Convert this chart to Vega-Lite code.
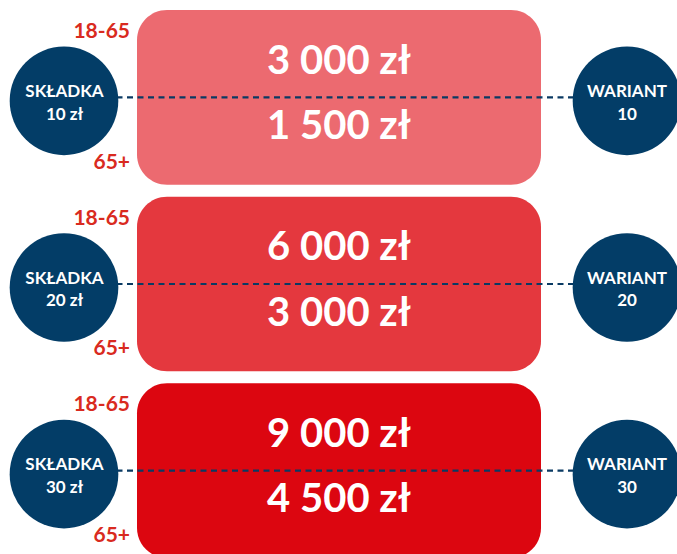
{
  "$schema": "https://vega.github.io/schema/vega-lite/v6.json",
  "width": 677,
  "height": 554,
  "autosize": {"type": "fit", "contains": "padding"},
  "padding": 0,
  "background": "white",
  "config": {
    "view": {"stroke": null},
    "locale": {"number": {"decimal": ",", "thousands": " ", "grouping": [3], "currency": ["", " zł"]}},
    "text": {"font": "Lato", "fontWeight": "bold", "baseline": "middle", "align": "center"}
  },
  "data": {
    "values": [
      {"wariant": 10, "skladka": 10, "kwota_18_65": 3000, "kwota_65plus": 1500},
      {"wariant": 20, "skladka": 20, "kwota_18_65": 6000, "kwota_65plus": 3000},
      {"wariant": 30, "skladka": 30, "kwota_18_65": 9000, "kwota_65plus": 4500}
    ]
  },
  "encoding": {
    "y": {"field": "wariant", "type": "ordinal", "axis": null,
          "scale": {"type": "band", "range": [10, 558], "paddingInner": 0.064, "paddingOuter": 0}}
  },
  "layer": [
    {
      "mark": {"type": "rect", "cornerRadius": 30},
      "encoding": {
        "x": {"datum": 137, "type": "quantitative", "axis": null, "scale": {"domain": [0, 677], "range": [0, 677], "nice": false, "zero": false}},
        "x2": {"datum": 541},
        "color": {"field": "wariant", "type": "nominal", "legend": null,
                  "scale": {"range": ["#EC6A70", "#E4383E", "#DC0610"]}}
      }
    },
    {
      "mark": {"type": "rule", "color": "#0A3A63", "strokeWidth": 2.2, "strokeDash": [6, 4.5]},
      "encoding": {
        "x": {"datum": 64, "type": "quantitative"},
        "x2": {"datum": 627},
        "y": {"field": "wariant", "type": "ordinal", "bandPosition": 0.5}
      }
    },
    {
      "mark": {"type": "point", "shape": "circle", "filled": true, "opacity": 1, "color": "#033D67", "size": 11800},
      "encoding": {
        "x": {"datum": 64, "type": "quantitative"},
        "y": {"field": "wariant", "type": "ordinal", "bandPosition": 0.52}
      }
    },
    {
      "mark": {"type": "point", "shape": "circle", "filled": true, "opacity": 1, "color": "#033D67", "size": 11800},
      "encoding": {
        "x": {"datum": 627, "type": "quantitative"},
        "y": {"field": "wariant", "type": "ordinal", "bandPosition": 0.52}
      }
    },
    {
      "mark": {"type": "text", "text": "SKŁADKA", "color": "white", "fontSize": 17, "letterSpacing": -0.6},
      "encoding": {
        "x": {"datum": 64.5, "type": "quantitative"},
        "y": {"field": "wariant", "type": "ordinal", "bandPosition": 0.47}
      }
    },
    {
      "mark": {"type": "text", "color": "white", "fontSize": 17, "letterSpacing": -0.4},
      "encoding": {
        "x": {"datum": 64.5, "type": "quantitative"},
        "y": {"field": "wariant", "type": "ordinal", "bandPosition": 0.6},
        "text": {"field": "skladka", "type": "quantitative", "format": "$,d"}
      }
    },
    {
      "mark": {"type": "text", "text": "WARIANT", "color": "white", "fontSize": 17, "letterSpacing": -0.6},
      "encoding": {
        "x": {"datum": 627, "type": "quantitative"},
        "y": {"field": "wariant", "type": "ordinal", "bandPosition": 0.47}
      }
    },
    {
      "mark": {"type": "text", "color": "white", "fontSize": 17},
      "encoding": {
        "x": {"datum": 627, "type": "quantitative"},
        "y": {"field": "wariant", "type": "ordinal", "bandPosition": 0.6},
        "text": {"field": "wariant", "type": "quantitative", "format": "d"}
      }
    },
    {
      "mark": {"type": "text", "color": "white", "fontSize": 40},
      "encoding": {
        "x": {"datum": 339, "type": "quantitative"},
        "y": {"field": "wariant", "type": "ordinal", "bandPosition": 0.296},
        "text": {"field": "kwota_18_65", "type": "quantitative", "format": "$,d"}
      }
    },
    {
      "mark": {"type": "text", "color": "white", "fontSize": 40},
      "encoding": {
        "x": {"datum": 339, "type": "quantitative"},
        "y": {"field": "wariant", "type": "ordinal", "bandPosition": 0.67},
        "text": {"field": "kwota_65plus", "type": "quantitative", "format": "$,d"}
      }
    },
    {
      "mark": {"type": "text", "text": "18-65", "color": "#D92A20", "fontSize": 21, "align": "right"},
      "encoding": {
        "x": {"datum": 130, "type": "quantitative"},
        "y": {"field": "wariant", "type": "ordinal", "bandPosition": 0.126}
      }
    },
    {
      "mark": {"type": "text", "text": "65+", "color": "#D92A20", "fontSize": 21, "align": "right"},
      "encoding": {
        "x": {"datum": 130, "type": "quantitative"},
        "y": {"field": "wariant", "type": "ordinal", "bandPosition": 0.874}
      }
    }
  ]
}
